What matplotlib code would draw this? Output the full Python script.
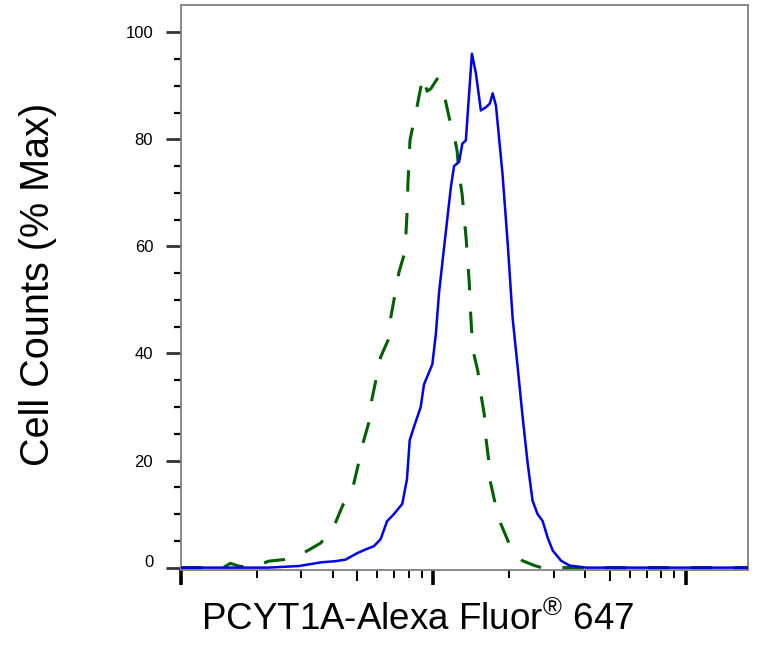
import math
import matplotlib
matplotlib.use("Agg")
import matplotlib.pyplot as plt
import matplotlib.transforms as mtransforms
from matplotlib.ticker import FixedLocator, NullFormatter

# ---- data (fluorescence intensity, % max) ----
blue_x = [100, 222, 293, 361, 409, 449, 499, 539, 581, 618, 656, 692, 753, 786, 806,
          838, 891, 918, 991, 1023, 1054, 1104, 1173, 1208, 1265, 1303, 1345, 1422,
          1475, 1543, 1615, 1675, 1718, 1771, 1880, 1968, 2061, 2158, 2259, 2366,
          2473, 2589, 2711, 2838, 2972, 3206, 3459, 4034, 17660]
blue_y = [0, 0, 0.3, 1.0, 1.2, 1.5, 2.7, 3.4, 4.0, 5.3, 8.7, 9.8, 11.9, 16.5, 23.8,
          26.3, 30.0, 34.2, 38.0, 43.6, 51.5, 60.0, 71.0, 75.0, 75.8, 79.2, 79.8, 96.0,
          92.3, 85.4, 86.0, 86.7, 88.6, 86.3, 73.5, 61.0, 46.7, 37.5, 28.1, 19.4,
          12.5, 10.0, 8.7, 5.6, 3.2, 1.3, 0.4, 0, 0]

green_x = [100, 147, 157, 169, 185, 207, 222, 255, 293, 321, 358, 385, 407, 438, 462,
           480, 502, 526, 555, 570, 592, 619, 666, 678, 705, 731, 773, 780, 789, 793,
           800, 808, 838, 861, 877, 910, 944, 979, 1035, 1074, 1114, 1156, 1197, 1242,
           1265, 1300, 1324, 1349, 1368, 1387, 1400, 1416, 1439, 1501, 1543, 1592,
           1618, 1656, 1679, 1754, 1854, 2000, 2113, 2253, 2513, 2679, 17660]
green_y = [0, 0, 0.8, 0.3, 0, 0.6, 1.2, 1.5, 2.3, 3.3, 4.6, 6.5, 8.1, 11.7, 13.5,
           15.0, 18.9, 23.2, 27.1, 31.3, 35.0, 39.4, 42.8, 46.7, 51.1, 55.2, 59.1, 63.0,
           67.3, 71.7, 75.5, 79.8, 83.5, 86.0, 88.0, 91.8, 89.0, 89.5, 91.3, 90.0, 87.5,
           84.0, 81.6, 77.9, 73.5, 69.8, 65.6, 61.5, 57.3, 53.5, 48.9, 44.8, 40.4, 36.7,
           32.4, 28.6, 24.0, 20.2, 16.2, 12.2, 8.1, 4.4, 2.5, 1.3, 0.4, 0, 0]

y_ticks = [0, 20, 40, 60, 80, 100]
y_labels = ["0", "20", "40", "60", "80", "100"]
x_major = [1e2, 1e3, 1e4]
x_label = "PCYT1A-Alexa Fluor$^{\\mathregular{\u00ae}}$ 647"
y_label = "Cell Counts (% Max)"

plt.rcParams['font.family'] = ['Liberation Sans', 'DejaVu Sans']
plt.rcParams['mathtext.fontset'] = 'custom'
plt.rcParams['mathtext.rm'] = 'Liberation Sans'
plt.rcParams['mathtext.default'] = 'regular'

fig = plt.figure(figsize=(7.62, 6.5), dpi=100)
ax = fig.add_axes([181 / 762, 1 - 569.5 / 650, (748 - 181) / 762, (569.5 - 5) / 650])

ax.plot(green_x, green_y, color='#006000', lw=2.2, dashes=(7, 7), zorder=3)
ax.plot(blue_x, blue_y, color='#0000EE', lw=1.8, zorder=4)

ax.set_xscale('log')
ax.set_xlim(100, 17660)
ax.set_ylim(-0.35, 105.1)

# x ticks
minor = [m * d for d in (1e2, 1e3) for m in range(2, 10)]
ax.xaxis.set_major_locator(FixedLocator(x_major))
ax.xaxis.set_minor_locator(FixedLocator(minor))
ax.xaxis.set_major_formatter(NullFormatter())
ax.xaxis.set_minor_formatter(NullFormatter())
ax.tick_params(axis='x', which='major', direction='out', length=11, width=2.6, color='black')
ax.tick_params(axis='x', which='minor', direction='out', length=6, width=1.4, color='black')
for t, v in zip(ax.xaxis.get_minor_ticks(len(minor)), minor):
    mant = v / 10 ** math.floor(math.log10(v) + 1e-9)
    if abs(mant - 5) < 1e-6:
        t.tick1line.set_markersize(8)

# y ticks
ax.set_yticks(y_ticks)
ax.set_yticklabels(y_labels, fontsize=12)
ax.set_yticks(list(range(5, 105, 5)), minor=True)
ax.tick_params(axis='y', which='major', direction='out', length=11, width=2.0, color='#333333', pad=9)
ax.tick_params(axis='y', which='minor', direction='out', length=5, width=1.6, color='black')
zero_lbl = ax.get_yticklabels()[0]
zero_lbl.set_transform(zero_lbl.get_transform() +
                       mtransforms.ScaledTranslation(0, 7 / 100, fig.dpi_scale_trans))

for s in ax.spines.values():
    s.set_color('#808080')
    s.set_linewidth(1.3)

fig.text(418 / 762, 1 - 630 / 650, x_label, fontsize=26.5, ha='center', va='baseline')
fig.text(38 / 762, 1 - 284 / 650, y_label, fontsize=28.5, ha='center', va='center', rotation=90)

fig.savefig('out.png', dpi=100)
